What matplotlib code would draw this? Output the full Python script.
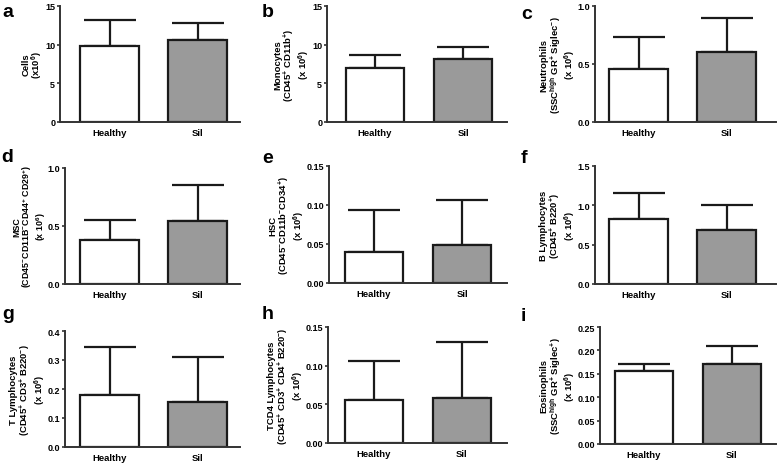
import numpy as np
import matplotlib
matplotlib.use('Agg')
import matplotlib.pyplot as plt

plt.rcParams['font.family'] = ['Liberation Sans', 'DejaVu Sans']
plt.rcParams['font.weight'] = 'bold'
plt.rcParams['mathtext.default'] = 'regular'

# -------------------- Data --------------------
groups = ['Healthy', 'Sil']
panel_letters = ['a', 'b', 'c', 'd', 'e', 'f', 'g', 'h', 'i']

ylabels = [
    'Cells\n(x10$^{6}$)',
    'Monocytes\n(CD45$^{+}$ CD11b$^{+}$)\n(x 10$^{6}$)',
    'Neutrophils\n(SSC$^{high}$ GR$^{+}$ Siglec$^{-}$)\n(x 10$^{6}$)',
    'MSC\n(CD45$^{-}$CD11B$^{-}$CD44$^{+}$ CD29$^{+}$)\n(x 10$^{6}$)',
    'HSC\n(CD45$^{-}$CD11b$^{-}$CD34$^{+}$)\n(x 10$^{6}$)',
    'B Lymphocytes\n(CD45$^{+}$ B220$^{+}$)\n(x 10$^{6}$)',
    'T Lymphocytes\n(CD45$^{+}$ CD3$^{+}$ B220$^{-}$)\n(x 10$^{6}$)',
    'TCD4 Lymphocytes\n(CD45$^{+}$ CD3$^{+}$ CD4$^{+}$ B220$^{-}$)\n(x 10$^{6}$)',
    'Eosinophils\n(SSC$^{high}$ GR$^{+}$ Siglec$^{+}$)\n(x 10$^{6}$)',
]

means = [
    [9.8, 10.6],
    [7.0, 8.2],
    [0.46, 0.60],
    [0.38, 0.54],
    [0.040, 0.049],
    [0.82, 0.69],
    [0.178, 0.155],
    [0.056, 0.058],
    [0.155, 0.172],
]
errors = [
    [3.4, 2.2],
    [1.7, 1.5],
    [0.27, 0.30],
    [0.17, 0.31],
    [0.054, 0.058],
    [0.34, 0.31],
    [0.167, 0.155],
    [0.050, 0.073],
    [0.015, 0.038],
]
yticks = [
    [0, 5, 10, 15],
    [0, 5, 10, 15],
    [0.0, 0.5, 1.0],
    [0.0, 0.5, 1.0],
    [0.00, 0.05, 0.10, 0.15],
    [0.0, 0.5, 1.0, 1.5],
    [0.0, 0.1, 0.2, 0.3, 0.4],
    [0.00, 0.05, 0.10, 0.15],
    [0.00, 0.05, 0.10, 0.15, 0.20, 0.25],
]
tick_fmt = ['%d', '%d', '%.1f', '%.1f', '%.2f', '%.1f', '%.1f', '%.2f', '%.2f']

# -------------------- Layout (pixels) --------------------
W, H = 778, 464
# left, right, top, bottom of each axes, centre of Healthy bar
boxes = [
    (60, 240, 7, 123, 109.5),
    (327, 507, 7, 123, 375),
    (595, 776, 7, 123, 638.5),
    (65, 240, 169, 285, 109.5),
    (329, 507, 167, 284, 374),
    (595, 776, 167, 285, 638.5),
    (65, 240, 332, 448, 109.5),
    (328, 507, 328, 444, 374),
    (600, 776, 328, 445, 644),
]
letter_pos = [(2, 4), (262, 4), (521, 6), (1, 149), (262, 150), (521, 150),
              (2, 306), (262, 306), (521, 308)]
label_size = [6.8, 6.8, 6.8, 6.4, 6.8, 6.8, 6.8, 6.8, 6.8]
unit_px = 88.0
bar_w = 0.66

fig = plt.figure(figsize=(W / 100, H / 100), dpi=100)
edge = '#1a1a1a'
axc = '#333333'

for k in range(9):
    l, r, t, b, hc = boxes[k]
    ax = fig.add_axes([l / W, 1 - b / H, (r - l) / W, (b - t) / H])
    x = np.arange(2)
    ax.bar(x, means[k], width=bar_w, color=['white', '#9a9a9a'],
           edgecolor=edge, linewidth=1.6, zorder=2)
    ax.errorbar(x, means[k], yerr=[np.zeros(2), errors[k]], fmt='none',
                ecolor=edge, elinewidth=1.6, capsize=19, capthick=1.6, zorder=1)
    ax.set_xlim(-(hc - l) / unit_px, 1 + (r - hc - unit_px) / unit_px)
    ax.set_ylim(0, yticks[k][-1])
    ax.set_yticks(yticks[k])
    ax.set_yticklabels([tick_fmt[k] % v for v in yticks[k]])
    ax.set_xticks(x)
    ax.set_xticklabels(groups)
    ax.tick_params(axis='y', length=2.5, width=1.2, color=axc, labelsize=6.5, pad=1)
    ax.tick_params(axis='x', length=0, labelsize=6.8, pad=4)
    for s in ['top', 'right']:
        ax.spines[s].set_visible(False)
    for s in ['left', 'bottom']:
        ax.spines[s].set_color(axc)
        ax.spines[s].set_linewidth(1.4)
    ax.set_ylabel(ylabels[k], fontsize=label_size[k], fontweight='bold', labelpad=0,
                  multialignment='center', linespacing=0.95)
    lx, ly = letter_pos[k]
    fig.text(lx / W, 1 - ly / H, panel_letters[k], fontsize=14, fontweight='bold',
             ha='left', va='top')

fig.savefig('out.png', dpi=100)
